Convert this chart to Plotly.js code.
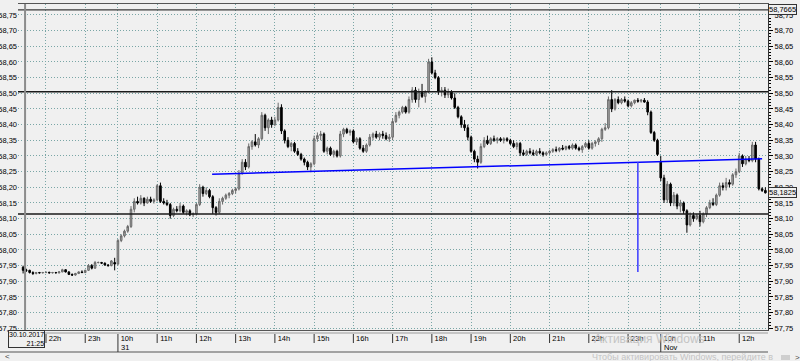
<!DOCTYPE html>
<html>
<head>
<meta charset="utf-8">
<script src="https://cdn.plot.ly/plotly-3.0.1.min.js"></script>
<style>
html,body{margin:0;padding:0;background:#f0f0f0;}
#chart{width:800px;height:361px;}
</style>
</head>
<body>
<div id="chart"></div>
<script>
// ---- Data (M5 candles, 30.10.2017 21:25 -> 01.11 12:40) ----
const opens = [57.945,57.935,57.935,57.928,57.925,57.928,57.927,57.928,57.929,57.927,57.928,57.927,57.93,57.937,57.93,57.922,57.92,57.925,57.93,57.928,57.935,57.95,57.942,57.96,57.96,57.958,57.952,57.95,57.96,57.955,
58.03,58.045,58.06,58.075,58.13,58.155,58.15,58.165,58.15,58.162,58.155,58.16,58.205,58.155,58.15,58.145,58.11,58.13,58.125,58.14,58.12,58.125,58.112,58.115,58.145,58.2,58.18,58.19,58.17,58.135,
58.12,58.155,58.165,58.175,58.18,58.19,58.195,58.245,58.28,58.265,58.33,58.345,58.335,58.355,58.43,58.39,58.415,58.4,58.415,58.455,58.38,58.35,58.33,58.34,58.315,58.305,58.29,58.28,58.265,58.275,
58.355,58.365,58.37,58.315,58.325,58.305,58.315,58.3,58.37,58.385,58.375,58.38,58.345,58.355,58.325,58.315,58.335,58.36,58.37,58.36,58.37,58.365,58.355,58.36,58.41,58.43,58.44,58.455,58.44,58.48,
58.51,58.48,58.505,58.49,58.505,58.6,58.565,58.55,58.505,58.51,58.495,58.505,58.485,58.455,58.425,58.4,58.39,58.36,58.315,58.29,58.28,58.33,58.35,58.34,58.355,58.35,58.355,58.35,58.355,58.35,
58.34,58.33,58.34,58.31,58.305,58.315,58.31,58.305,58.315,58.31,58.305,58.31,58.315,58.32,58.318,58.325,58.322,58.33,58.325,58.335,58.325,58.32,58.33,58.34,58.325,58.34,58.345,58.355,58.385,58.39,
58.48,58.45,58.48,58.47,58.48,58.475,58.46,58.47,58.478,58.475,58.478,58.472,58.44,58.375,58.35,58.28,58.23,58.16,58.21,58.15,58.175,58.14,58.15,58.125,58.08,58.11,58.1,58.11,58.09,58.115,
58.135,58.15,58.145,58.175,58.205,58.2,58.215,58.21,58.24,58.25,58.3,58.275,58.29,58.285,58.335,58.29,58.195,58.19];
const highs = [57.95,57.94,57.937,57.932,57.93,57.93,57.93,57.93,57.93,57.93,57.93,57.932,57.94,57.938,57.932,57.925,57.927,57.932,57.935,57.937,57.955,57.955,57.965,57.963,57.962,57.96,57.955,57.968,57.975,58.035,
58.05,58.065,58.08,58.14,58.165,58.17,58.175,58.168,58.17,58.17,58.165,58.21,58.215,58.165,58.16,58.15,58.135,58.14,58.15,58.145,58.13,58.13,58.12,58.15,58.21,58.205,58.2,58.195,58.175,58.14,
58.165,58.17,58.18,58.185,58.195,58.2,58.255,58.29,58.29,58.34,58.35,58.37,58.36,58.44,58.435,58.42,58.425,58.425,58.47,58.465,58.385,58.36,58.345,58.345,58.325,58.31,58.295,58.285,58.28,58.365,
58.375,58.38,58.375,58.33,58.33,58.32,58.32,58.38,58.39,58.39,58.385,58.385,58.36,58.36,58.335,58.34,58.37,58.375,58.38,58.375,58.38,58.375,58.37,58.42,58.44,58.445,58.46,58.46,58.49,58.52,
58.52,58.515,58.53,58.51,58.61,58.615,58.575,58.555,58.52,58.52,58.515,58.51,58.5,58.46,58.43,58.415,58.4,58.365,58.32,58.3,58.34,58.36,58.365,58.36,58.365,58.36,58.36,58.36,58.36,58.355,
58.35,58.345,58.345,58.32,58.32,58.325,58.32,58.32,58.325,58.315,58.315,58.32,58.325,58.33,58.328,58.335,58.333,58.335,58.34,58.34,58.33,58.335,58.345,58.35,58.345,58.35,58.36,58.39,58.405,58.49,
58.51,58.485,58.49,58.485,58.49,58.48,58.475,58.48,58.485,58.482,58.485,58.478,58.445,58.38,58.355,58.3,58.24,58.22,58.215,58.185,58.18,58.16,58.155,58.13,58.12,58.12,58.115,58.125,58.12,58.14,
58.16,58.165,58.18,58.215,58.215,58.23,58.225,58.245,58.26,58.31,58.305,58.3,58.3,58.345,58.345,58.295,58.2,58.2];
const lows = [57.925,57.93,57.925,57.92,57.922,57.925,57.925,57.926,57.925,57.925,57.926,57.925,57.929,57.928,57.92,57.917,57.918,57.923,57.926,57.926,57.933,57.938,57.94,57.957,57.955,57.95,57.947,57.948,57.935,57.95,
58.025,58.04,58.055,58.07,58.12,58.145,58.145,58.14,58.148,58.15,58.148,58.155,58.15,58.145,58.14,58.1,58.105,58.12,58.12,58.115,58.11,58.108,58.105,58.11,58.14,58.17,58.175,58.165,58.115,58.11,
58.115,58.145,58.16,58.165,58.175,58.18,58.19,58.24,58.255,58.26,58.32,58.33,58.325,58.35,58.38,58.37,58.39,58.395,58.41,58.37,58.34,58.325,58.315,58.31,58.3,58.285,58.27,58.255,58.248,58.27,
58.345,58.35,58.31,58.305,58.3,58.295,58.295,58.295,58.36,58.37,58.365,58.34,58.335,58.32,58.31,58.31,58.33,58.35,58.355,58.35,58.355,58.35,58.345,58.35,58.405,58.42,58.435,58.435,58.435,58.47,
58.47,58.455,58.485,58.47,58.5,58.56,58.545,58.495,58.49,58.485,58.485,58.48,58.45,58.42,58.39,58.38,58.35,58.31,58.28,58.26,58.275,58.325,58.335,58.335,58.345,58.34,58.345,58.34,58.345,58.335,
58.325,58.32,58.3,58.3,58.3,58.305,58.3,58.3,58.305,58.298,58.3,58.305,58.31,58.312,58.312,58.318,58.318,58.32,58.32,58.32,58.315,58.31,58.325,58.32,58.32,58.33,58.335,58.345,58.38,58.385,
58.44,58.445,58.465,58.465,58.47,58.455,58.455,58.465,58.47,58.47,58.47,58.43,58.37,58.345,58.3,58.22,58.15,58.15,58.14,58.14,58.13,58.12,58.115,58.055,58.075,58.09,58.095,58.075,58.085,58.105,
58.13,58.14,58.14,58.17,58.19,58.19,58.2,58.205,58.23,58.245,58.265,58.27,58.28,58.28,58.28,58.19,58.185,58.18];
const closes = [57.935,57.935,57.928,57.925,57.928,57.927,57.928,57.929,57.927,57.928,57.927,57.93,57.937,57.93,57.922,57.92,57.925,57.93,57.928,57.935,57.95,57.942,57.96,57.96,57.958,57.952,57.95,57.965,57.955,58.03,
58.045,58.06,58.075,58.13,58.155,58.15,58.165,58.15,58.162,58.155,58.16,58.205,58.155,58.15,58.145,58.11,58.13,58.125,58.14,58.12,58.125,58.112,58.115,58.145,58.2,58.18,58.19,58.17,58.135,58.12,
58.155,58.165,58.175,58.18,58.19,58.195,58.245,58.28,58.265,58.33,58.345,58.335,58.355,58.43,58.39,58.415,58.4,58.415,58.455,58.38,58.35,58.33,58.34,58.315,58.305,58.29,58.28,58.265,58.275,58.355,
58.365,58.37,58.315,58.325,58.305,58.315,58.3,58.37,58.385,58.375,58.38,58.345,58.355,58.325,58.315,58.335,58.36,58.37,58.36,58.37,58.365,58.355,58.36,58.41,58.43,58.44,58.455,58.44,58.48,58.51,
58.48,58.505,58.49,58.505,58.6,58.565,58.55,58.505,58.51,58.495,58.505,58.485,58.455,58.425,58.4,58.39,58.36,58.315,58.29,58.28,58.33,58.35,58.34,58.355,58.35,58.355,58.35,58.355,58.35,58.34,
58.33,58.34,58.31,58.305,58.315,58.31,58.305,58.315,58.31,58.305,58.31,58.315,58.32,58.318,58.325,58.322,58.33,58.325,58.335,58.325,58.32,58.33,58.34,58.325,58.34,58.345,58.355,58.385,58.39,58.48,
58.45,58.48,58.47,58.48,58.475,58.46,58.47,58.478,58.475,58.478,58.472,58.44,58.375,58.35,58.305,58.23,58.16,58.21,58.15,58.175,58.14,58.15,58.125,58.08,58.11,58.1,58.11,58.09,58.115,58.135,
58.15,58.145,58.175,58.205,58.2,58.215,58.21,58.24,58.25,58.3,58.275,58.29,58.285,58.335,58.29,58.195,58.19,58.1825];

// hour ticks (bar index where each hour starts) and labels
const tickBars   = [7, 19, 29, 41, 53, 65, 77, 89, 101, 113, 125, 137, 149, 161, 173, 185, 195, 207, 219];
const tickLabels = ['22h','23h','10h','11h','12h','13h','14h','15h','16h','17h','18h','19h','20h','21h','22h','23h','10h','11h','12h'];
const dayBars    = [29, 195];
const dayLabels  = ['31', 'Nov'];
const startLabel = ['30.10.2017', '21:25'];

// drawn objects
const levels       = [58.7665, 58.505, 58.115];
const trendBars    = [57.8, 226];
const trendPrices  = [58.242, 58.291];
const vLineBar     = [188];
const vLinePrices  = [58.281, 57.93];
const markerBar    = [0.6];

const bars = closes.map((_, i) => i);

// ---- geometry helpers ----
const W = 800, H = 361, ML = 18, MR = 32, MT = 4, MB = 31;
const PH = H - MT - MB, PW = W - ML - MR;
const py = Y => (H - MB - Y) / PH;      // pixel row -> paper y
const px = X => (X - ML) / PW;          // pixel col -> paper x

const fnt = {family: 'Liberation Sans, Arial, sans-serif', size: 7.5, color: '#000'};
const fntS = {family: 'Liberation Sans, Arial, sans-serif', size: 7, color: '#000'};
const gridCol = '#7aa6a6';
const fmt = v => v.toFixed(4).replace('.', ',');

const traces = [
  {
    type: 'candlestick', x: bars, open: opens, high: highs, low: lows, close: closes,
    increasing: {line: {color: '#6a6a6a', width: 1}, fillcolor: '#a8a8a8'},
    decreasing: {line: {color: '#000000', width: 1}, fillcolor: '#000000'},
    whiskerwidth: 0, hoverinfo: 'skip'
  },
  {type: 'scatter', x: bars, y: closes, yaxis: 'y2', mode: 'lines', opacity: 0, hoverinfo: 'skip'}
];

const shapes = [];
levels.forEach((lv, k) => shapes.push({type: 'line', xref: 'paper', x0: 0, x1: 1, yref: 'y', y0: lv, y1: lv,
  line: {color: k === 0 ? '#3a3a3a' : '#1a1a1a', width: k === 0 ? 1.2 : 1.6}}));
shapes.push({type: 'line', xref: 'x', yref: 'paper', x0: markerBar[0], x1: markerBar[0], y0: 0, y1: 1,
  line: {color: '#8c8c8c', width: 2}});
shapes.push({type: 'line', xref: 'x', yref: 'y', x0: trendBars[0], x1: trendBars[1], y0: trendPrices[0], y1: trendPrices[1],
  line: {color: '#0000ff', width: 1.5}});
shapes.push({type: 'line', xref: 'x', yref: 'y', x0: vLineBar[0], x1: vLineBar[0], y0: vLinePrices[0], y1: vLinePrices[1],
  line: {color: '#3a3aff', width: 1.5}});
// x-axis band lines
shapes.push({type: 'line', xref: 'paper', yref: 'paper', x0: 0, x1: 1, y0: py(333), y1: py(333), line: {color: '#9a9a9a', width: 1}});
shapes.push({type: 'line', xref: 'paper', yref: 'paper', x0: px(0), x1: 1, y0: py(352), y1: py(352), line: {color: '#555', width: 1}});
tickBars.forEach(b => shapes.push({type: 'line', xref: 'x', yref: 'paper', x0: b, x1: b,
  y0: py(334), y1: dayBars.includes(b) ? py(352) : py(343), line: {color: '#333', width: 1}}));
// scrollbar thumb
shapes.push({type: 'rect', xref: 'paper', yref: 'paper', x0: px(781), x1: px(790), y0: py(355), y1: py(360),
  fillcolor: '#cfcfcf', line: {width: 0}});

const annotations = [
  {xref: 'paper', yref: 'y', x: 1, y: levels[0], xanchor: 'left', yanchor: 'middle', text: fmt(levels[0]),
   showarrow: false, font: fnt, bgcolor: '#f0f0f0', bordercolor: '#333', borderwidth: 1, borderpad: 0},
  {xref: 'paper', yref: 'y', x: 1, y: closes[closes.length - 1], xanchor: 'left', yanchor: 'middle', text: fmt(closes[closes.length - 1]),
   showarrow: false, font: fnt, bgcolor: '#f0f0f0', bordercolor: '#333', borderwidth: 1, borderpad: 0},
  {xref: 'paper', yref: 'paper', x: px(8), y: py(330), xanchor: 'left', yanchor: 'top', align: 'right',
   text: startLabel.join('<br>'), showarrow: false, font: fntS, bgcolor: '#f0f0f0', bordercolor: '#333', borderwidth: 1, borderpad: 0},
  {xref: 'paper', yref: 'paper', x: px(592), y: py(339), xanchor: 'left', yanchor: 'middle', text: 'Активация Windows',
   showarrow: false, font: {family: 'Liberation Sans, Arial, sans-serif', size: 12, color: '#c4c4c4'}},
  {xref: 'paper', yref: 'paper', x: px(590), y: py(357), xanchor: 'left', yanchor: 'middle', text: 'Чтобы активировать Windows, перейдите в',
   showarrow: false, font: {family: 'Liberation Sans, Arial, sans-serif', size: 9, color: '#c4c4c4'}},
  {xref: 'paper', yref: 'paper', x: px(3), y: py(356), xanchor: 'left', yanchor: 'middle', text: '&lt;',
   showarrow: false, font: {family: 'Liberation Sans, Arial, sans-serif', size: 8, color: '#444'}},
  {xref: 'paper', yref: 'paper', x: px(793), y: py(357), xanchor: 'left', yanchor: 'middle', text: '&gt;',
   showarrow: false, font: {family: 'Liberation Sans, Arial, sans-serif', size: 8, color: '#444'}}
];
dayBars.forEach((b, k) => annotations.push({xref: 'x', yref: 'paper', x: b, y: py(348), xanchor: 'left', yanchor: 'middle',
  xshift: 1, text: dayLabels[k], showarrow: false, font: fnt}));

const yr = [57.7446, 58.785];
const layout = {
  width: W, height: H,
  margin: {l: ML, r: MR, t: MT, b: MB, pad: 0},
  paper_bgcolor: '#f0f0f0', plot_bgcolor: '#f0f0f0',
  separators: ',.',
  showlegend: false,
  hovermode: false,
  xaxis: {
    range: [-1.56, 227.8], tickmode: 'array', tickvals: tickBars, ticktext: tickLabels,
    ticks: '', showgrid: true, gridcolor: gridCol, griddash: '1px,2px', gridwidth: 1,
    showline: true, linecolor: '#555', linewidth: 1, mirror: true, zeroline: false,
    rangeslider: {visible: false}, tickfont: fnt, ticklabelshift: 9, ticklabelstandoff: 1, fixedrange: true
  },
  yaxis: {
    side: 'right', range: yr, tick0: 57.75, dtick: 0.05, tickformat: '.2f',
    ticks: 'outside', ticklen: 4, tickcolor: '#000', tickwidth: 1,
    minor: {dtick: 0.01, ticks: 'outside', ticklen: 2, tickcolor: '#000', showgrid: false},
    showgrid: true, gridcolor: gridCol, griddash: '1px,2px', gridwidth: 1,
    showline: true, linecolor: '#333', linewidth: 1, zeroline: false, tickfont: fnt, fixedrange: true
  },
  yaxis2: {
    overlaying: 'y', side: 'left', range: yr, tick0: 57.75, dtick: 0.05, tickformat: '.2f',
    ticks: '', showgrid: false, zeroline: false, showline: false, tickfont: fnt, fixedrange: true
  },
  shapes: shapes,
  annotations: annotations
};

Plotly.newPlot('chart', traces, layout, {displayModeBar: false, staticPlot: true});
</script>
</body>
</html>
